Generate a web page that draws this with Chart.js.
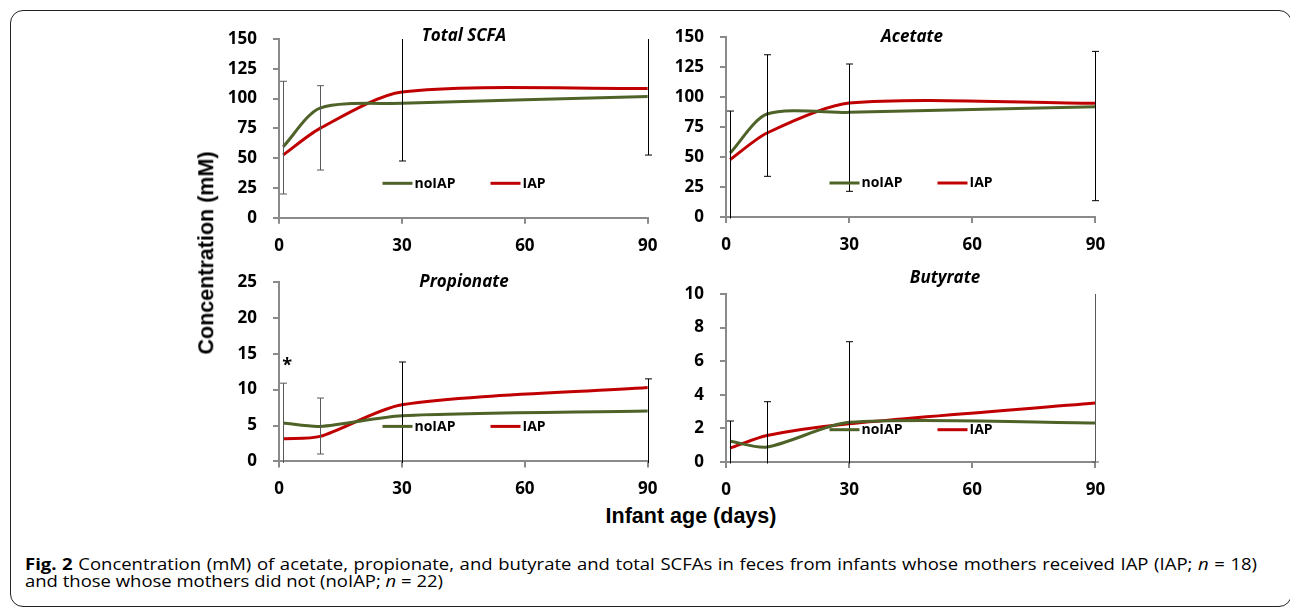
<!DOCTYPE html>
<html>
<head>
<meta charset="utf-8">
<script src="https://cdn.jsdelivr.net/npm/chart.js@4/dist/chart.umd.min.js"></script>
<style>
html,body{margin:0;padding:0;background:#fff;}
body{width:1290px;height:607px;position:relative;overflow:hidden;font-family:'Open Sans',sans-serif;color:#000;}
#frame{position:absolute;left:10px;top:10px;width:1282px;height:597px;border:1.5px solid #222;border-radius:13px;box-sizing:border-box;}
canvas{position:absolute;}
.ptitle{position:absolute;font-weight:bold;font-style:italic;font-size:17px;white-space:nowrap;transform:translate(-50%,-50%);line-height:1;}
#ytitle{position:absolute;left:207px;top:253px;font-family:'Liberation Sans',Arial,sans-serif;font-weight:bold;font-size:21.5px;white-space:nowrap;transform:translate(-50%,-50%) rotate(-90deg);line-height:1;}
#xtitle{position:absolute;left:691px;top:506px;font-family:'Liberation Sans',Arial,sans-serif;font-weight:bold;font-size:21.5px;white-space:nowrap;transform:translateX(-50%);line-height:1;}
#caption{position:absolute;left:25px;top:555px;width:1100px;font-size:16.5px;line-height:17px;transform:scaleX(1.12);transform-origin:0 0;}
#caption .l1{display:block;text-align:justify;text-align-last:justify;white-space:nowrap;}
#caption .l2{display:block;white-space:nowrap;}
</style>
</head>
<body>
<div id="frame"></div>
<canvas id="c1"></canvas>
<canvas id="c2"></canvas>
<canvas id="c3"></canvas>
<canvas id="c4"></canvas>
<div class="ptitle" style="left:464px;top:34px">Total SCFA</div>
<div class="ptitle" style="left:912px;top:35px">Acetate</div>
<div class="ptitle" style="left:464px;top:280px">Propionate</div>
<div class="ptitle" style="left:945px;top:276px">Butyrate</div>
<div id="ytitle">Concentration (mM)</div>
<div id="xtitle">Infant age (days)</div>
<div id="caption"><span class="l1"><b>Fig. 2</b> Concentration (mM) of acetate, propionate, and butyrate and total SCFAs in feces from infants whose mothers received IAP (IAP; <i>n</i> = 18)</span><span class="l2">and those whose mothers did not (noIAP; <i>n</i> = 22)</span></div>
<script>
// ---------- DATA ----------
const days = [1, 10, 30, 90];
const xTickValues = [0, 30, 60, 90];
const seriesNames = ['noIAP', 'IAP'];

const totalNoIAP = [59.5, 92.0, 96.0, 101.8];
const totalIAP   = [52.6, 75.0, 105.5, 108.5];
const totalErrLow  = [19.9, 40.0, 47.6, 52.6];
const totalErrHigh = [114.5, 110.8, 165.0, 165.0];
const totalTicks = [0, 25, 50, 75, 100, 125, 150];

const acetateNoIAP = [53.3, 85.8, 87.2, 91.9];
const acetateIAP   = [47.8, 70.0, 95.0, 94.7];
const acetateErrLow  = [-10.0, 33.9, 21.4, 13.6];
const acetateErrHigh = [88.3, 135.2, 127.5, 138.0];
const acetateTicks = [0, 25, 50, 75, 100, 125, 150];

const propNoIAP = [5.35, 4.88, 6.37, 7.02];
const propIAP   = [3.16, 3.48, 7.90, 10.30];
const propErrLow  = [-2.0, 1.03, -2.0, -2.0];
const propErrHigh = [10.9, 8.83, 13.85, 11.5];
const propTicks = [0, 5, 10, 15, 20, 25];
const propSigDay = [2];
const propSigValue = [13.3];

const butNoIAP = [1.23, 0.89, 2.36, 2.32];
const butIAP   = [0.83, 1.58, 2.28, 3.51];
const butErrLow  = [-0.5, -0.5, -0.5, 0.0];
const butErrHigh = [2.44, 3.59, 7.16, 11.0];
const butTicks = [0, 2, 4, 6, 8, 10];

// ---------- STYLE ----------
const GREEN = '#4F6228';
const RED = '#C00000';
const AXIS = '#8a8a8a';
const FONT = "'Open Sans', sans-serif";
const M_TOP = 34, M_RIGHT = 34, Y_W = 88, X_H = 42;
const TENSION = 0.27;

const decor = {
  id: 'decor',
  afterDatasetsDraw(chart, args, o) {
    const {ctx, chartArea: a, scales: {x, y}} = chart;
    ctx.save();
    ctx.beginPath();
    ctx.rect(a.left - 5, a.top, a.right - a.left + 10, a.bottom - a.top + 1.5);
    ctx.clip();
    ctx.lineWidth = 1;
    o.errLow.forEach((lo, i) => {
      const px = Math.round(x.getPixelForValue(o.errDays[i])) + 0.5;
      const yl = y.getPixelForValue(lo);
      const yh = y.getPixelForValue(o.errHigh[i]);
      ctx.strokeStyle = o.errColors[i];
      ctx.beginPath();
      ctx.moveTo(px, yl); ctx.lineTo(px, yh);
      ctx.moveTo(px - 3.5, yl); ctx.lineTo(px + 3.5, yl);
      ctx.moveTo(px - 3.5, yh); ctx.lineTo(px + 3.5, yh);
      ctx.stroke();
    });
    ctx.restore();
    if (o.sigDays) {
      ctx.save();
      ctx.fillStyle = '#000';
      ctx.font = 'bold 18px ' + FONT;
      ctx.textAlign = 'center';
      ctx.textBaseline = 'middle';
      o.sigDays.forEach((d, i) => {
        ctx.fillText('*', x.getPixelForValue(d), y.getPixelForValue(o.sigValues[i]));
      });
      ctx.restore();
    }
    ctx.save();
    ctx.font = 'bold 14px ' + FONT;
    ctx.textBaseline = 'middle';
    ctx.textAlign = 'left';
    const ly = a.bottom - o.legendDy;
    chart.data.datasets.forEach((ds, i) => {
      const lx = a.left + o.legendX[i];
      ctx.strokeStyle = ds.borderColor;
      ctx.lineWidth = 3;
      ctx.beginPath();
      ctx.moveTo(lx, ly); ctx.lineTo(lx + 30, ly);
      ctx.stroke();
      ctx.fillStyle = '#000';
      ctx.fillText(ds.label, lx + 32, ly + 0.5);
    });
    ctx.restore();
  }
};

function makePanel(id, geo, noIAP, IAP, yTicks, errLow, errHigh, errColors, sig) {
  const canvas = document.getElementById(id);
  const left = geo.areaLeft - Y_W, top = geo.areaTop - M_TOP;
  const w = Math.round(geo.areaRight + M_RIGHT - left);
  const h = Math.round(geo.areaBottom + X_H - top);
  canvas.width = w; canvas.height = h;
  canvas.style.left = left + 'px'; canvas.style.top = top + 'px';
  canvas.style.width = w + 'px'; canvas.style.height = h + 'px';
  const padRight = left + w - geo.areaRight;
  const xHeight = top + h - geo.areaBottom;
  const tickFont = {family: FONT, size: 17, weight: 'bold'};
  return new Chart(canvas, {
    type: 'line',
    data: {
      datasets: [
        {label: seriesNames[0], data: days.map((d, i) => ({x: d, y: noIAP[i]})), borderColor: GREEN, borderWidth: 3, pointRadius: 0, tension: TENSION, fill: false},
        {label: seriesNames[1], data: days.map((d, i) => ({x: d, y: IAP[i]})), borderColor: RED, borderWidth: 3, pointRadius: 0, tension: TENSION, fill: false}
      ]
    },
    options: {
      responsive: false,
      animation: false,
      devicePixelRatio: 1,
      layout: {padding: {top: M_TOP, right: padRight, left: 0, bottom: 0}},
      plugins: {
        legend: {display: false},
        tooltip: {enabled: false},
        decor: {
          errDays: days, errLow, errHigh, errColors,
          sigDays: sig ? sig[0] : null, sigValues: sig ? sig[1] : null,
          legendX: geo.legendX, legendDy: geo.legendDy
        }
      },
      scales: {
        x: {
          type: 'linear',
          min: xTickValues[0], max: xTickValues[xTickValues.length - 1],
          afterBuildTicks: s => { s.ticks = xTickValues.map(v => ({value: v})); },
          afterFit: s => { s.height = xHeight; },
          grid: {drawOnChartArea: false, drawTicks: true, tickLength: 6, color: AXIS, lineWidth: 2},
          border: {display: true, color: AXIS, width: 2},
          ticks: {font: tickFont, color: '#000', padding: 12, autoSkip: false, maxRotation: 0}
        },
        y: {
          type: 'linear',
          min: yTicks[0], max: yTicks[yTicks.length - 1],
          afterBuildTicks: s => { s.ticks = yTicks.map(v => ({value: v})); },
          afterFit: s => { s.width = Y_W; },
          grid: {drawOnChartArea: false, drawTicks: true, tickLength: 6, color: AXIS, lineWidth: 2},
          border: {display: true, color: AXIS, width: 2},
          ticks: {font: tickFont, color: '#000', padding: 16}
        }
      }
    },
    plugins: [decor]
  });
}

const geos = {
  c1: {areaLeft: 278.5, areaTop: 39, areaRight: 647.3, areaBottom: 217.7, legendX: [103.5, 211.5], legendDy: 34.4},
  c2: {areaLeft: 726.3, areaTop: 37.3, areaRight: 1095.7, areaBottom: 217.3, legendX: [103.5, 211.5], legendDy: 34.0},
  c3: {areaLeft: 278.5, areaTop: 282.3, areaRight: 647.3, areaBottom: 461.7, legendX: [103.5, 211.5], legendDy: 35.0},
  c4: {areaLeft: 726.3, areaTop: 294.3, areaRight: 1095.7, areaBottom: 462.3, legendX: [103.5, 211.5], legendDy: 32.3}
};

function build() {
  const G = '#595959', K = '#000';
  makePanel('c1', geos.c1, totalNoIAP, totalIAP, totalTicks, totalErrLow, totalErrHigh, [G, G, K, K]);
  makePanel('c2', geos.c2, acetateNoIAP, acetateIAP, acetateTicks, acetateErrLow, acetateErrHigh, [K, K, K, K]);
  makePanel('c3', geos.c3, propNoIAP, propIAP, propTicks, propErrLow, propErrHigh, [G, G, K, K], [propSigDay, propSigValue]);
  makePanel('c4', geos.c4, butNoIAP, butIAP, butTicks, butErrLow, butErrHigh, [K, K, K, G]);
}

if (document.fonts && document.fonts.load) {
  Promise.all([
    document.fonts.load("bold 17px 'Open Sans'"),
    document.fonts.load("bold italic 17px 'Open Sans'"),
    document.fonts.load("17px 'Open Sans'")
  ]).then(build, build);
} else {
  build();
}
</script>
</body>
</html>
